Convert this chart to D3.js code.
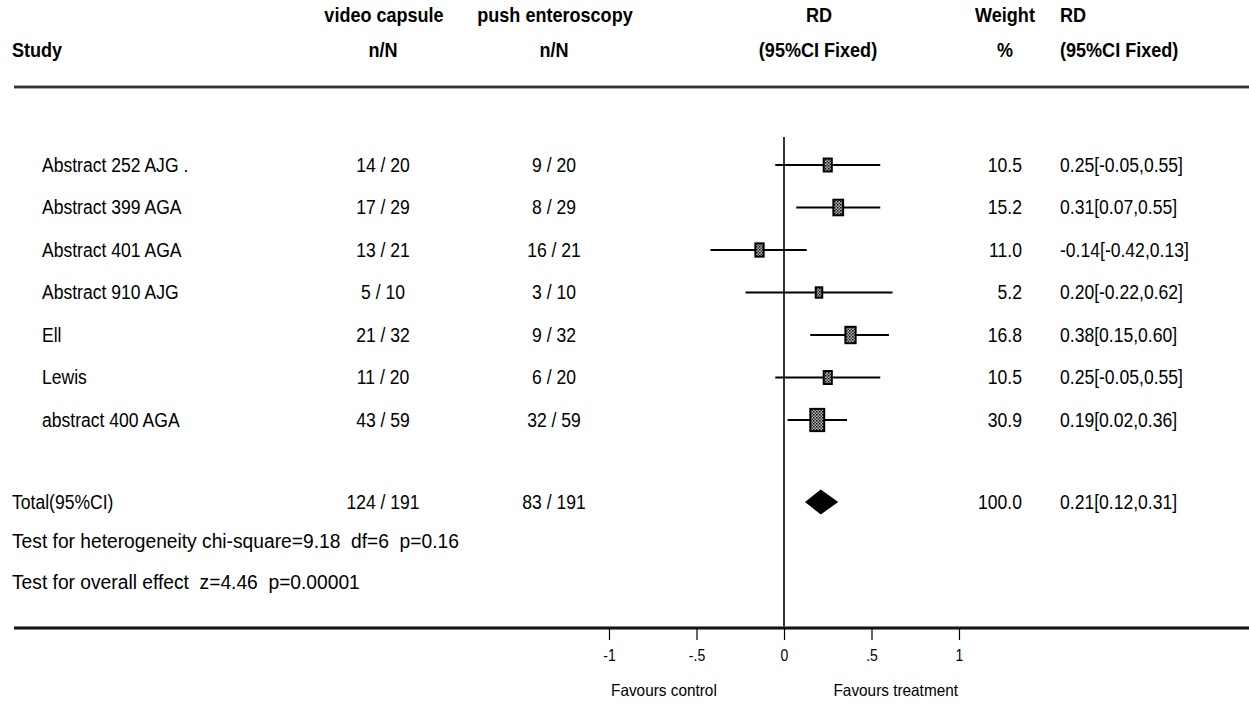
<!DOCTYPE html>
<html>
<head>
<meta charset="utf-8">
<script src="https://cdn.jsdelivr.net/npm/d3@7"></script>
<style>
  html, body { margin: 0; padding: 0; background: #fff; }
  svg text { font-family: "Liberation Sans", Arial, sans-serif; fill: #000; white-space: pre; }
  .hdr { font-weight: bold; font-size: 20.5px; }
  .dat { font-size: 19.5px; }
  .ax { font-size: 16.5px; }
</style>
</head>
<body>
<svg id="chart" width="1249" height="704"></svg>
<script>
// ---- data ----
const studies = ["Abstract 252 AJG .", "Abstract 399 AGA", "Abstract 401 AGA", "Abstract 910 AJG", "Ell", "Lewis", "abstract 400 AGA"];
const treatEvents = [14, 17, 13, 5, 21, 11, 43];
const treatTotal  = [20, 29, 21, 10, 32, 20, 59];
const ctrlEvents  = [9, 8, 16, 3, 9, 6, 32];
const ctrlTotal   = [20, 29, 21, 10, 32, 20, 59];
const rd     = [0.25, 0.31, -0.14, 0.20, 0.38, 0.25, 0.19];
const lower  = [-0.05, 0.07, -0.42, -0.22, 0.15, -0.05, 0.02];
const upper  = [0.55, 0.55, 0.13, 0.62, 0.60, 0.55, 0.36];
const weight = [10.5, 15.2, 11.0, 5.2, 16.8, 10.5, 30.9];

const totalLabel = "Total(95%CI)";
const totalTreat = [124, 191];
const totalCtrl  = [83, 191];
const totalRD = 0.21, totalLo = 0.12, totalHi = 0.31, totalWeight = 100.0;

const heterogeneityText = "Test for heterogeneity chi-square=9.18  df=6  p=0.16";
const overallText = "Test for overall effect  z=4.46  p=0.00001";

const tickValues = [-1, -0.5, 0, 0.5, 1];
const tickLabels = ["-1", "-.5", "0", ".5", "1"];
const favourLeft = "Favours control";
const favourRight = "Favours treatment";

// ---- layout ----
const svg = d3.select("#chart");
const x = d3.scaleLinear().domain([-1, 1]).range([609, 959]);
const y = d3.scaleLinear().domain([0, 6]).range([165, 420]);
const yTotal = 502, yHet = 541, yOverall = 582, yAxis = 628;
const colStudy = 42, colTreat = 383, colCtrl = 554, colWeight = 1022, colRD = 1060;

const loc = d3.formatLocale({decimal: ".", thousands: ",", grouping: [3], currency: ["", ""], minus: "-"});
const fmt2 = loc.format(".2f");
const fmt1 = loc.format(".1f");

// pattern for boxes
const defs = svg.append("defs");
const pat = defs.append("pattern").attr("id", "hatch")
  .attr("patternUnits", "userSpaceOnUse").attr("width", 3).attr("height", 3);
pat.append("rect").attr("width", 3).attr("height", 3).attr("fill", "#bbb");
pat.append("rect").attr("width", 1.5).attr("height", 1.5).attr("fill", "#000");
pat.append("rect").attr("x", 1.5).attr("y", 1.5).attr("width", 1.5).attr("height", 1.5).attr("fill", "#333");

// ---- headers ----
const hdr = svg.append("g").attr("class", "hdr");
const H1 = 15, H2 = 50;
hdr.append("text").attr("x", 12).attr("y", H2).attr("dy", "0.35em").text("Study");
hdr.append("text").attr("x", colTreat + 1).attr("y", H1).attr("dy", "0.35em").attr("text-anchor", "middle").text("video capsule");
hdr.append("text").attr("x", colTreat).attr("y", H2).attr("dy", "0.35em").attr("text-anchor", "middle").text("n/N");
hdr.append("text").attr("x", colCtrl + 1).attr("y", H1).attr("dy", "0.35em").attr("text-anchor", "middle").text("push enteroscopy");
hdr.append("text").attr("x", colCtrl).attr("y", H2).attr("dy", "0.35em").attr("text-anchor", "middle").text("n/N");
hdr.append("text").attr("x", 819).attr("y", H1).attr("dy", "0.35em").attr("text-anchor", "middle").text("RD");
hdr.append("text").attr("x", 818).attr("y", H2).attr("dy", "0.35em").attr("text-anchor", "middle").text("(95%CI Fixed)");
hdr.append("text").attr("x", 1005).attr("y", H1).attr("dy", "0.35em").attr("text-anchor", "middle").text("Weight");
hdr.append("text").attr("x", 1005).attr("y", H2).attr("dy", "0.35em").attr("text-anchor", "middle").text("%");
hdr.append("text").attr("x", colRD).attr("y", H1).attr("dy", "0.35em").text("RD");
hdr.append("text").attr("x", colRD).attr("y", H2).attr("dy", "0.35em").text("(95%CI Fixed)");

// header rule (double grey)
svg.append("line").attr("x1", 14).attr("x2", 1249).attr("y1", 87).attr("y2", 87)
  .attr("stroke", "#555").attr("stroke-width", 3);
svg.append("line").attr("x1", 14).attr("x2", 1249).attr("y1", 87).attr("y2", 87)
  .attr("stroke", "#111").attr("stroke-width", 1.2);

// vertical zero line
svg.append("line").attr("x1", x(0)).attr("x2", x(0)).attr("y1", 137).attr("y2", yAxis)
  .attr("stroke", "#000").attr("stroke-width", 1.6);

// ---- rows ----
const idx = d3.range(studies.length);
const rows = svg.append("g").attr("class", "dat");
rows.selectAll(".st").data(idx).join("text")
  .attr("x", colStudy).attr("y", i => y(i)).attr("dy", "0.35em").text(i => studies[i]);
rows.selectAll(".tr").data(idx).join("text")
  .attr("x", colTreat).attr("y", i => y(i)).attr("dy", "0.35em").attr("text-anchor", "middle")
  .text(i => treatEvents[i] + " / " + treatTotal[i]);
rows.selectAll(".ct").data(idx).join("text")
  .attr("x", colCtrl).attr("y", i => y(i)).attr("dy", "0.35em").attr("text-anchor", "middle")
  .text(i => ctrlEvents[i] + " / " + ctrlTotal[i]);
rows.selectAll(".wt").data(idx).join("text")
  .attr("x", colWeight).attr("y", i => y(i)).attr("dy", "0.35em").attr("text-anchor", "end")
  .text(i => fmt1(weight[i]));
rows.selectAll(".rd").data(idx).join("text")
  .attr("x", colRD).attr("y", i => y(i)).attr("dy", "0.35em")
  .text(i => fmt2(rd[i]) + "[" + fmt2(lower[i]) + "," + fmt2(upper[i]) + "]");

// CI lines
const marks = svg.append("g");
marks.selectAll(".ci").data(idx).join("line")
  .attr("x1", i => x(lower[i])).attr("x2", i => x(upper[i]))
  .attr("y1", i => y(i)).attr("y2", i => y(i))
  .attr("stroke", "#000").attr("stroke-width", 2);
// boxes
const bw = i => Math.max(6.5, 2.5 * Math.sqrt(weight[i]));
const bh = i => bw(i) * 1.6;
marks.selectAll(".box").data(idx).join("rect")
  .attr("x", i => x(rd[i]) - bw(i) / 2).attr("y", i => y(i) - bh(i) / 2)
  .attr("width", bw).attr("height", bh)
  .attr("fill", "url(#hatch)").attr("stroke", "#000").attr("stroke-width", 2);

// ---- total ----
const tot = svg.append("g").attr("class", "dat");
tot.append("text").attr("x", 12).attr("y", yTotal).attr("dy", "0.35em").text(totalLabel);
tot.append("text").attr("x", colTreat).attr("y", yTotal).attr("dy", "0.35em").attr("text-anchor", "middle")
  .text(totalTreat[0] + " / " + totalTreat[1]);
tot.append("text").attr("x", colCtrl).attr("y", yTotal).attr("dy", "0.35em").attr("text-anchor", "middle")
  .text(totalCtrl[0] + " / " + totalCtrl[1]);
tot.append("text").attr("x", colWeight).attr("y", yTotal).attr("dy", "0.35em").attr("text-anchor", "end")
  .text(fmt1(totalWeight));
tot.append("text").attr("x", colRD).attr("y", yTotal).attr("dy", "0.35em")
  .text(fmt2(totalRD) + "[" + fmt2(totalLo) + "," + fmt2(totalHi) + "]");
const dh = 12.5;
svg.append("path")
  .attr("d", d3.line()([[x(totalLo), yTotal], [x(totalRD), yTotal - dh], [x(totalHi), yTotal], [x(totalRD), yTotal + dh]]) + "Z")
  .attr("fill", "#000");

const notes = svg.append("g").attr("class", "dat note");
notes.append("text").attr("x", 12).attr("y", yHet).attr("dy", "0.35em").text(heterogeneityText);
notes.append("text").attr("x", 12).attr("y", yOverall).attr("dy", "0.35em").text(overallText);

// ---- axis ----
svg.append("line").attr("x1", 14).attr("x2", 1249).attr("y1", yAxis).attr("y2", yAxis)
  .attr("stroke", "#555").attr("stroke-width", 3.5);
svg.append("line").attr("x1", 14).attr("x2", 1249).attr("y1", yAxis).attr("y2", yAxis)
  .attr("stroke", "#000").attr("stroke-width", 1.5);
const axis = d3.axisBottom(x).tickValues(tickValues).tickSize(12).tickPadding(9)
  .tickFormat((d, i) => tickLabels[i]);
const ag = svg.append("g").attr("transform", `translate(0,${yAxis})`).call(axis);
ag.attr("font-family", null).attr("font-size", null);
ag.select(".domain").remove();
ag.selectAll(".tick line").attr("stroke", "#000").attr("stroke-width", 1.2);
ag.selectAll(".tick text").attr("class", "ax").attr("fill", "#000");

const fg = svg.append("g").attr("class", "ax fav");
fg.append("text").attr("x", x(-1) + 2).attr("y", 690).attr("dy", "0.35em").text(favourLeft);
fg.append("text").attr("x", x(1) - 1).attr("y", 690).attr("dy", "0.35em").attr("text-anchor", "end").text(favourRight);

// condense text horizontally to mimic a narrow face
function squeeze(sel, f) {
  sel.each(function () {
    if (typeof this.getComputedTextLength !== "function") return;
    const w = this.getComputedTextLength();
    if (w > 0) {
      this.setAttribute("textLength", (w * f).toFixed(1));
      this.setAttribute("lengthAdjust", "spacingAndGlyphs");
    }
  });
}
squeeze(svg.selectAll("g.hdr text"), 0.88);
squeeze(svg.selectAll("g.dat:not(.note) text"), 0.9);
squeeze(svg.selectAll("g.note text"), 0.985);
squeeze(svg.selectAll("text.ax"), 0.85);
squeeze(svg.selectAll("g.fav text"), 0.93);
</script>
</body>
</html>
